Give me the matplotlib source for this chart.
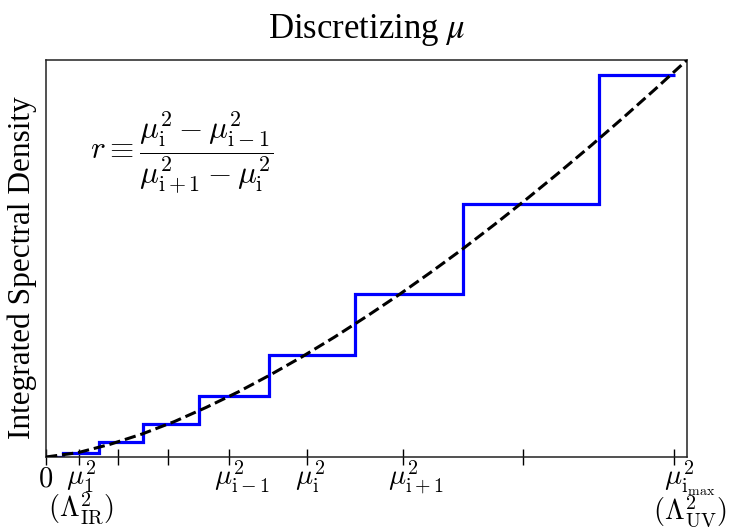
import matplotlib
matplotlib.use("Agg")
import matplotlib.pyplot as plt
from matplotlib.transforms import ScaledTranslation

# ---- data ----
curve_x = [0.0, 0.05, 0.10, 0.15, 0.20, 0.25, 0.30, 0.35, 0.40, 0.45, 0.50,
           0.55, 0.60, 0.65, 0.70, 0.75, 0.80, 0.85, 0.90, 0.95, 1.0]
curve_y = [0.0, 0.011, 0.032, 0.058, 0.089, 0.125, 0.164, 0.207, 0.253, 0.302, 0.354,
           0.408, 0.465, 0.524, 0.586, 0.650, 0.716, 0.784, 0.854, 0.926, 1.0]

step_edges = [0.0, 0.026, 0.082, 0.151, 0.239, 0.348, 0.482, 0.651, 0.863, 0.981]
step_levels = [0.0, 0.011, 0.038, 0.084, 0.154, 0.257, 0.411, 0.637, 0.962]

tick_pos = [0.0, 0.0515, 0.1123, 0.1903, 0.2855, 0.4072, 0.5569, 0.7441, 0.9797]
tick_labels = ["$0$",
               "$\\mu_1^2$\n$(\\Lambda^2_{\\rm IR})$",
               "", "",
               "$\\mu^2_{\\rm i-1}$",
               "$\\mu^2_{\\rm i}$",
               "$\\mu^2_{\\rm i+1}$",
               "",
               "$\\mu^2_{{\\rm i}_{\\rm max}}$\n$(\\Lambda^2_{\\rm UV})$"]
label_shift_px = [(0, -9), (2, 0), (0, 0), (0, 0), (13, 0), (3, 0), (13, 0), (0, 0), (16, 0)]

plt.rcParams['font.family'] = ['Liberation Serif', 'DejaVu Serif']
plt.rcParams['mathtext.fontset'] = 'cm'

DPI = 100
fig = plt.figure(figsize=(7.29, 5.32), dpi=DPI)
ax = fig.add_axes([46/729, 1-457/532, (687-46)/729, (457-60)/532])

ax.stairs(step_levels, step_edges, baseline=None, color='#0000ff', linewidth=2.3, zorder=2)
ax.plot(curve_x, curve_y, color='black', linestyle='--', linewidth=2.2, zorder=3)

ax.set_xlim(0, 1)
ax.set_ylim(0, 1)
ax.set_yticks([])
ax.set_xticks(tick_pos)
ax.set_xticklabels(tick_labels, fontsize=20.5)
ax.tick_params(axis='x', direction='inout', length=12, width=1.0, color='black', pad=-5)
for lab, (dx, dy) in zip(ax.get_xticklabels(), label_shift_px):
    lab.set_transform(lab.get_transform() + ScaledTranslation(dx/DPI, dy/DPI, fig.dpi_scale_trans))
    lab.set_multialignment('center')
    lab.set_linespacing(0.85)

for sp in ax.spines.values():
    sp.set_linewidth(1.1)
    sp.set_color('#222222')

ax.set_ylabel("Integrated Spectral Density", fontsize=22.5)
ax.yaxis.set_label_coords(-0.014, 0.476)
t = ax.set_title("Discretizing $\\mu$", fontsize=25, pad=16)
t.set_math_fontfamily('stix')

ax.text(0.212, 0.766,
        "$r \\equiv \\dfrac{\\mu_{\\rm i}^2-\\mu_{\\rm i-1}^2}{\\mu_{\\rm i+1}^2-\\mu_{\\rm i}^2}$",
        transform=ax.transAxes, ha='center', va='center', fontsize=22.5)

fig.savefig("out.png", dpi=DPI)
